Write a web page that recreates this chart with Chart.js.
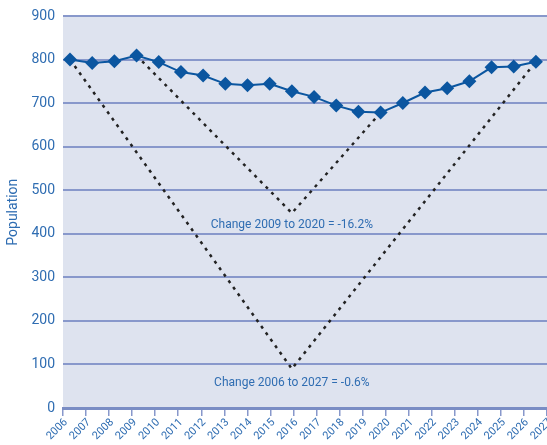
<!DOCTYPE html>
<html>
<head>
<meta charset="utf-8">
<script src="https://cdn.jsdelivr.net/npm/chart.js@4/dist/chart.umd.min.js"></script>
<style>
  html, body { margin: 0; padding: 0; background: #ffffff; }
  #wrap { width: 547px; height: 445px; position: relative; }
</style>
</head>
<body>
<div id="wrap"><canvas id="c"></canvas></div>
<script>
// Years shown on the horizontal axis
const years = ['2006','2007','2008','2009','2010','2011','2012','2013','2014','2015','2016',
               '2017','2018','2019','2020','2021','2022','2023','2024','2025','2026','2027'];

// Population per year
const population = [801, 793, 797, 810, 795, 772, 764, 745, 742, 745, 728,
                    715, 695, 681, 679, 701, 725, 735, 751, 783, 785, 796];

// Guide "V" lines: year index and level of each corner
const change0627X = [0, 10, 21];
const change0627Y = [801, 90, 796];
const change0920X = [3, 10, 14];
const change0920Y = [810, 448, 679];

// Annotation texts
const noteText = ['Change 2009 to 2020 = -16.2%', 'Change 2006 to 2027 = -0.6%'];
const noteAt = [[10, 420], [10, 57]];

const yTicks = [0, 100, 200, 300, 400, 500, 600, 700, 800, 900];

const BLUE_TEXT = '#2f6db2';
const GRID = '#8898cb';
const LINE = '#0b56a0';

const toPoints = (xs, ys) => xs.map((x, i) => ({ x: x, y: ys[i] }));

const plotBackground = {
  id: 'plotBackground',
  beforeDraw(chart) {
    const { ctx, chartArea: a } = chart;
    ctx.save();
    ctx.fillStyle = '#dee3ef';
    ctx.fillRect(a.left, a.top, a.right - a.left, a.bottom - a.top);
    ctx.restore();
  }
};

const notes = {
  id: 'notes',
  afterDatasetsDraw(chart) {
    const { ctx } = chart;
    const xs = chart.scales.x, ys = chart.scales.y;
    ctx.save();
    ctx.fillStyle = BLUE_TEXT;
    ctx.font = '12px Roboto';
    ctx.textAlign = 'center';
    ctx.textBaseline = 'middle';
    noteText.forEach((t, i) => {
      ctx.fillText(t, xs.getPixelForValue(noteAt[i][0]), ys.getPixelForValue(noteAt[i][1]));
    });
    ctx.restore();
  }
};

new Chart(document.getElementById('c'), {
  type: 'line',
  data: {
    datasets: [
      {
        data: toPoints(years.map((_, i) => i), population),
        borderColor: LINE,
        backgroundColor: LINE,
        borderWidth: 2,
        pointStyle: 'rectRot',
        pointRadius: 7,
        pointHoverRadius: 7,
        pointBorderWidth: 0,
        tension: 0
      },
      {
        data: toPoints(change0920X, change0920Y),
        borderColor: '#222222',
        borderWidth: 2.5,
        borderDash: [3, 5],
        pointRadius: 0,
        tension: 0
      },
      {
        data: toPoints(change0627X, change0627Y),
        borderColor: '#222222',
        borderWidth: 2.5,
        borderDash: [3, 5],
        pointRadius: 0,
        tension: 0
      }
    ]
  },
  options: {
    responsive: true,
    maintainAspectRatio: false,
    animation: false,
    layout: { autoPadding: false, padding: { top: 13, right: 0, left: 0, bottom: 0 } },
    plugins: { legend: { display: false }, tooltip: { enabled: false } },
    scales: {
      x: {
        type: 'linear',
        display: false,
        min: -0.316,
        max: 21.5
      },
      xc: {
        type: 'category',
        labels: years,
        position: 'bottom',
        offset: false,
        afterFit(s) { s.height = 37; s.paddingLeft = 0; s.paddingRight = 0; },
        grid: {
          drawOnChartArea: false,
          drawTicks: true,
          tickLength: 8,
          color: GRID,
          lineWidth: 1.5
        },
        border: { display: true, color: '#7a8dc4', width: 3 },
        ticks: {
          autoSkip: false,
          maxRotation: 45,
          minRotation: 45,
          padding: 0,
          labelOffset: 3,
          color: BLUE_TEXT,
          font: { family: 'Roboto', size: 11 }
        }
      },
      y: {
        min: 0,
        max: 900,
        afterFit(s) { s.width = 63; },
        afterBuildTicks(s) { s.ticks = yTicks.map(v => ({ value: v })); },
        grid: {
          drawTicks: false,
          color: GRID,
          lineWidth: 2
        },
        border: { display: false },
        title: {
          display: true,
          text: 'Population',
          color: BLUE_TEXT,
          font: { family: 'Roboto', size: 14 },
          padding: { top: 5, bottom: 0 }
        },
        ticks: {
          padding: 8,
          color: BLUE_TEXT,
          font: { family: 'Roboto', size: 14 }
        }
      }
    }
  },
  plugins: [plotBackground, notes]
});
</script>
</body>
</html>
